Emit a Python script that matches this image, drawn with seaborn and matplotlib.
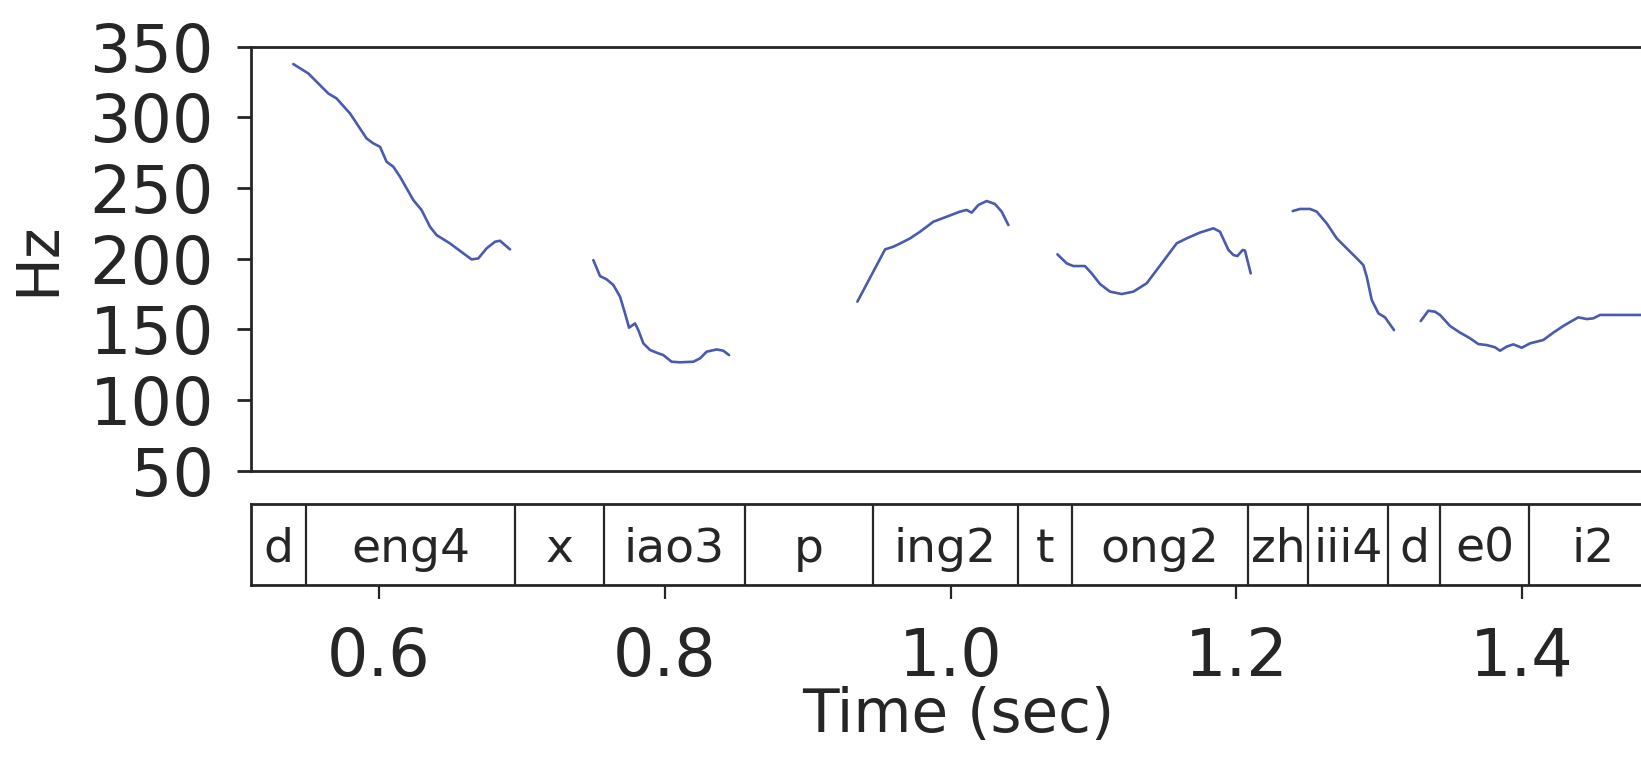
import numpy as np
import pandas as pd
import matplotlib
matplotlib.use("Agg")
import matplotlib.pyplot as plt
import seaborn as sns

# ---- pitch contour (time in s, F0 in Hz), one list per voiced segment ----
seg1_t = [0.540, 0.5505, 0.5645, 0.5703, 0.5797, 0.5913, 0.596, 0.6007, 0.6053, 0.610, 0.6147,
          0.624, 0.6298, 0.6357, 0.6403, 0.6497, 0.659, 0.6648, 0.6695, 0.6753, 0.6812, 0.6847, 0.6917]
seg1_hz = [337.7, 331.1, 316.9, 313.4, 302.8, 285.1, 281.6, 279.2, 268.6, 265.1, 258.0,
           241.5, 234.4, 222.6, 216.7, 210.8, 203.8, 199.5, 200.2, 207.3, 212.0, 212.7, 206.6]

seg2_t = [0.750, 0.7547, 0.7593, 0.764, 0.7687, 0.7722, 0.775, 0.7792, 0.7815, 0.785, 0.7897,
          0.7943, 0.799, 0.8048, 0.8107, 0.820, 0.8247, 0.8293, 0.8363, 0.841, 0.845]
seg2_hz = [199.0, 187.7, 185.4, 181.4, 173.1, 161.3, 151.2, 154.2, 149.5, 140.1, 135.4,
           133.5, 131.8, 127.1, 126.7, 127.1, 129.5, 134.2, 135.8, 134.9, 131.8]

seg3_t = [0.9348, 0.9542, 0.9600, 0.9658, 0.9717, 0.9787, 0.9880, 0.9973, 1.0066, 1.0113,
          1.0148, 1.0195, 1.0253, 1.0311, 1.0358, 1.0405]
seg3_hz = [169.6, 206.6, 208.5, 211.3, 214.4, 219.1, 226.2, 229.7, 233.3, 234.5,
           232.6, 238.0, 240.8, 238.7, 233.3, 223.8]

seg4_t = [1.0748, 1.0813, 1.0860, 1.0941, 1.0988, 1.1046, 1.1116, 1.1198, 1.1280, 1.1373,
          1.1443, 1.1513, 1.1583, 1.1653, 1.1746, 1.1840, 1.1886, 1.1945, 1.1980, 1.2008,
          1.2045, 1.2061, 1.2101]
seg4_hz = [203.1, 196.7, 194.8, 194.8, 189.6, 182.1, 176.7, 175.0, 176.7, 182.6,
           192.0, 201.4, 210.9, 214.4, 218.5, 221.5, 219.1, 206.2, 202.6, 201.9,
           206.2, 205.7, 189.6]

seg5_t = [1.2395, 1.2446, 1.2516, 1.2563, 1.2633, 1.2703, 1.2773, 1.2843, 1.2889, 1.2913,
          1.2948, 1.2995, 1.3041, 1.3104]
seg5_hz = [233.7, 235.2, 235.2, 233.3, 225.0, 214.4, 207.3, 200.3, 195.5, 187.3,
           170.8, 161.3, 158.5, 149.5]

seg6_t = [1.3291, 1.3344, 1.3391, 1.3426, 1.3496, 1.3566, 1.3636, 1.3694, 1.3753, 1.3811,
          1.3846, 1.3893, 1.3939, 1.3998, 1.4056, 1.4149, 1.4219, 1.4289, 1.4336, 1.4394,
          1.4453, 1.4499, 1.4546, 1.4700, 1.4900]
seg6_hz = [155.9, 163.2, 162.5, 160.2, 152.4, 147.7, 143.7, 139.6, 138.9, 137.3,
           134.9, 137.8, 139.4, 137.0, 140.1, 142.5, 147.7, 152.4, 155.2, 158.5,
           157.3, 157.8, 160.2, 160.2, 160.2]

# ---- phoneme segmentation ----
phonemes = ["d", "eng4", "x", "iao3", "p", "ing2", "t", "ong2", "zh", "iii4", "d", "e0", "i2"]
boundaries = [0.5102, 0.549, 0.695, 0.7575, 0.856, 0.9455, 1.047, 1.085, 1.2085, 1.250,
              1.3065, 1.3425, 1.405, 1.495]

# ---- axes labels / ticks ----
y_ticks = [50, 100, 150, 200, 250, 300, 350]
x_ticks = [0.6, 0.8, 1.0, 1.2, 1.4]
x_label = "Time (sec)"
y_label = "Hz"

segs = [(seg1_t, seg1_hz), (seg2_t, seg2_hz), (seg3_t, seg3_hz),
        (seg4_t, seg4_hz), (seg5_t, seg5_hz), (seg6_t, seg6_hz)]
df = pd.concat([pd.DataFrame({"time": t, "hz": h, "seg": i}) for i, (t, h) in enumerate(segs)],
               ignore_index=True)

sns.set_style("ticks")
plt.rcParams["font.family"] = ["DejaVu Sans"]
ink = "#262626"
plt.rcParams.update({
    "axes.edgecolor": ink, "xtick.color": ink, "ytick.color": ink,
    "text.color": ink, "axes.labelcolor": ink,
})

W, H = 1641, 764
fig = plt.figure(figsize=(W / 100, H / 100), dpi=100)

xmin, xmax = 0.5102, 1.5002
left = 250.7 / W
width = (1665.2 - 250.7) / W

ax = fig.add_axes([left, 1 - 470.7 / H, width, (470.7 - 46.7) / H])
ax2 = fig.add_axes([left, 1 - 585 / H, width, (585 - 504) / H])

line_color = "#4a5aad"
sns.lineplot(data=df, x="time", y="hz", units="seg", estimator=None, sort=False,
             color=line_color, linewidth=1.9, ax=ax)
ax.set_xlim(xmin, xmax)
ax.set_ylim(50, 350)
ax.set_yticks(y_ticks)
ax.set_xticks([])
ax.set_xlabel("")
ax.set_ylabel(y_label, fontsize=42, labelpad=17)
ax.tick_params(axis="y", labelsize=47, length=10.4, width=2, pad=16)
for s in ax.spines.values():
    s.set_linewidth(2)
ax.spines["right"].set_visible(False)

# phoneme tier
ax2.set_xlim(xmin, xmax)
ax2.set_ylim(0, 1)
for b in boundaries:
    ax2.axvline(b, color=ink, linewidth=1.6)
for i, ph in enumerate(phonemes):
    ax2.text((boundaries[i] + boundaries[i + 1]) / 2, 0.5, ph, ha="center",
             va="center_baseline", fontsize=34)
ax2.set_yticks([])
ax2.set_xticks(x_ticks)
ax2.set_xticklabels([f"{v:.1f}" for v in x_ticks])
ax2.tick_params(axis="x", labelsize=47, length=10.4, width=1.6, pad=19)
for s in ax2.spines.values():
    s.set_linewidth(2)
ax2.spines["right"].set_visible(False)
ax2.set_xlabel(x_label, fontsize=43, labelpad=-3)

fig.savefig("out.png", dpi=100)
